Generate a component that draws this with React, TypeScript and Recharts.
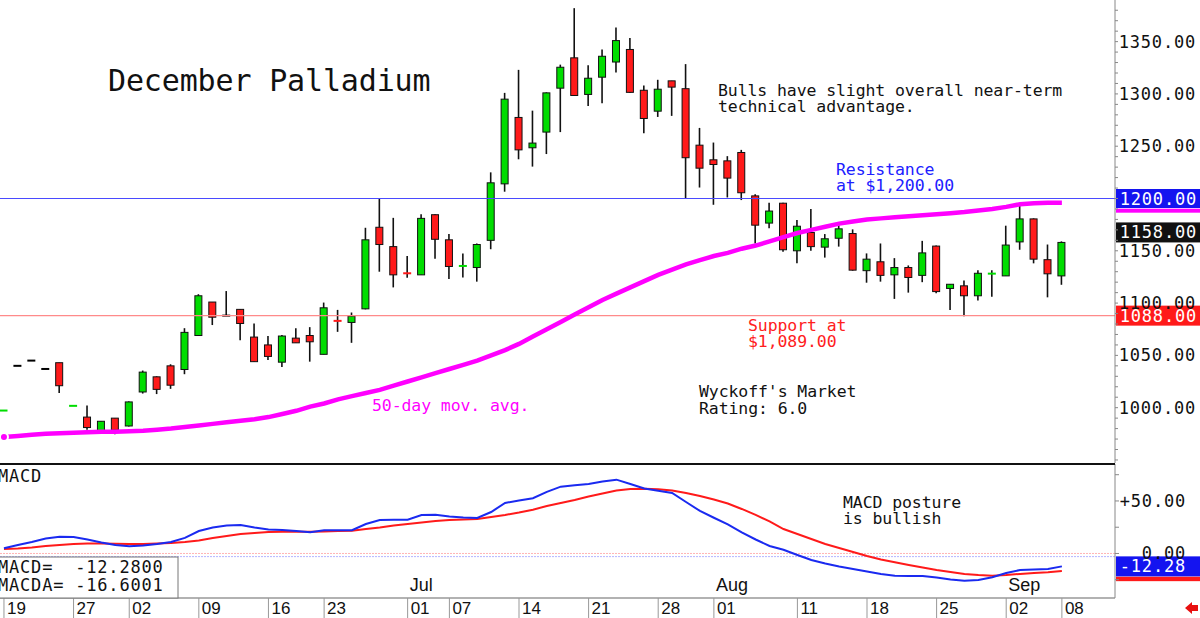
import React from "react";
import { ComposedChart, Bar, Line, XAxis, YAxis, ReferenceLine } from "recharts";

// trading days, May 19 - Sep 08
const dates = [
  "05/19", "05/20", "05/21", "05/22", "05/23", "05/27", "05/28", "05/29", "05/30",
  "06/02", "06/03", "06/04", "06/05", "06/06", "06/09", "06/10", "06/11", "06/12", "06/13",
  "06/16", "06/17", "06/18", "06/20", "06/23", "06/24", "06/25", "06/26", "06/27", "06/30",
  "07/01", "07/02", "07/03", "07/07", "07/08", "07/09", "07/10", "07/11", "07/14", "07/15",
  "07/16", "07/17", "07/18", "07/21", "07/22", "07/23", "07/24", "07/25", "07/28", "07/29",
  "07/30", "07/31", "08/01", "08/04", "08/05", "08/06", "08/07", "08/08", "08/11", "08/12",
  "08/13", "08/14", "08/15", "08/18", "08/19", "08/20", "08/21", "08/22", "08/25", "08/26",
  "08/27", "08/28", "08/29", "09/02", "09/03", "09/04", "09/05", "09/08",
];

const opens = [
  997, 1040, 1045, 1037, 1043, 1001.5, 991, 975.5, 990,
  982.5, 1015, 1029.5, 1040, 1036.5, 1069, 1101, 1088, 1094, 1067.5,
  1060, 1043.5, 1066.5, 1069, 1051, 1083.2, 1081.5, 1094.5, 1172.5, 1154,
  1128.7, 1127, 1184.5, 1160.5, 1135.3, 1134, 1160, 1214, 1277.5, 1248.5,
  1263.5, 1305.5, 1334.5, 1299.5, 1316, 1330.5, 1342.5, 1303.5, 1283.5, 1312.5,
  1305, 1251, 1237, 1236, 1244, 1202.5, 1176.5, 1195.5, 1150, 1167.5,
  1153.5, 1162, 1166.5, 1131, 1139.5, 1127, 1134, 1126.5, 1154.5, 1114,
  1116.5, 1107, 1128, 1126, 1158.5, 1180.5, 1141.5, 1126,
];
const highs = [
  997.5, 1040, 1045, 1037, 1043, 1002, 1002, 987, 990,
  1006, 1035.5, 1030, 1041.5, 1076, 1108.5, 1101, 1111.5, 1094, 1080.5,
  1068.5, 1069.5, 1076, 1077, 1100.5, 1093.5, 1091, 1172, 1199.5, 1181.5,
  1145, 1185, 1185, 1166, 1147.5, 1157, 1225, 1301, 1323, 1284,
  1301.5, 1328, 1382, 1327.5, 1342.5, 1363.5, 1353.5, 1308, 1313.5, 1312.5,
  1328.5, 1267.5, 1253.5, 1240.5, 1246.5, 1204, 1196, 1196, 1179.5, 1190,
  1166, 1174.5, 1170.5, 1147.5, 1157, 1143, 1136, 1159.5, 1155, 1118,
  1121.5, 1131.5, 1131.5, 1174, 1195.5, 1181, 1156, 1159,
];
const lows = [
  997, 1040, 1045, 1037, 1014, 1001.5, 979, 975.5, 974.5,
  982, 1013.5, 1013, 1018, 1032, 1069, 1079, 1088, 1064.5, 1044,
  1045.5, 1039, 1062, 1044, 1051, 1072.5, 1062, 1094, 1130, 1115,
  1124.3, 1127, 1142.5, 1123, 1124.5, 1120.5, 1151.5, 1206.5, 1237.5, 1230.5,
  1242.5, 1263.5, 1298, 1288.5, 1291, 1320.5, 1301, 1262.5, 1278, 1279,
  1200, 1210.5, 1194, 1201, 1198.5, 1157, 1171.5, 1149, 1138, 1150,
  1143.5, 1154, 1131, 1119.5, 1120.5, 1104, 1110, 1120, 1109.5, 1093.5,
  1087.5, 1102.5, 1106, 1126, 1151, 1138, 1105.5, 1117.5,
];
const closes = [
  997.5, 1040, 1045, 1037, 1021, 1002, 981, 987, 978.5,
  1005.5, 1034, 1017.5, 1021.5, 1072, 1107, 1086.5, 1088, 1080.5, 1044,
  1049, 1068.5, 1062, 1063, 1095.5, 1082.8, 1087.5, 1160.5, 1156, 1127,
  1128.3, 1181, 1161, 1135, 1135.7, 1156, 1215, 1295, 1246.5, 1253,
  1301, 1325.5, 1298.5, 1315, 1336, 1351, 1301.5, 1276.5, 1304.5, 1306.5,
  1239, 1229, 1232.5, 1219.5, 1205.5, 1174.5, 1188, 1151, 1173.5, 1154,
  1161.5, 1171, 1131.5, 1142, 1126.5, 1134, 1124.5, 1148, 1111, 1118,
  1107, 1128.5, 1128.3, 1155.5, 1180.5, 1142, 1128, 1158,
];

// 50-day moving average
const ma50 = [
  972, 973, 974, 975, 975.5, 976, 976.5, 977, 977,
  977.5, 978, 979, 980, 981.5, 983, 984.5, 986, 987.5, 989,
  991, 994, 997, 1001, 1004, 1008, 1011, 1014, 1017, 1021,
  1025, 1029, 1033, 1037, 1041, 1045, 1050, 1055, 1061, 1068,
  1075, 1082, 1089, 1096, 1103, 1109, 1115, 1121, 1127, 1132,
  1137, 1141, 1145, 1148, 1152, 1155, 1159, 1163, 1167, 1170,
  1173, 1176, 1178, 1180, 1181, 1182, 1183, 1184, 1185, 1186,
  1187, 1188.5, 1190, 1192, 1194.5, 1195.5, 1196, 1196,
];

const macdLine = [
  5, 8.1, 11, 14.3, 16, 15.7, 13.3, 10.5, 8.1,
  6.9, 7.6, 9, 11, 14.8, 21.4, 24.8, 26.7, 27.1, 24.8,
  22.9, 22.4, 21.4, 20.2, 22.1, 22.1, 22.1, 28.1, 31.9, 32.1,
  32.2, 36.7, 36.9, 35.2, 34.3, 33.8, 39.5, 48.1, 50.5, 52.6,
  58.6, 63.6, 65, 66.2, 68.6, 70.3, 66.2, 61.9, 59.7, 57.6,
  49, 40.5, 34, 27.8, 20, 13.3, 7.1, 3.6, -1.4, -6.2,
  -9.5, -12.4, -14.8, -17.1, -19.5, -21.1, -21.4, -21.4, -22.9, -24.8,
  -25.9, -25.2, -22.7, -18.6, -15.7, -15.2, -14.8, -12.28,
];
const macdSignal = [
  4.3, 4.8, 5.7, 7.1, 8.1, 9, 9.5, 9.5, 9.3,
  9, 9, 9.5, 10, 11, 12.4, 14.8, 16.7, 18.6, 19.5,
  20.5, 20.8, 20.8, 20.8, 21, 21.4, 21.7, 23.3, 24.8, 26.7,
  28.1, 29.5, 31, 31.9, 32.4, 32.9, 34.8, 36.7, 39, 41.7,
  45.2, 48.1, 51, 54.3, 57.1, 60, 61.4, 61.6, 61.1, 60,
  57.6, 54.8, 51.4, 47.6, 42.4, 36.7, 30.5, 23.3, 18.6, 13.8,
  9, 5.2, 1.4, -2.4, -5.7, -8.4, -11, -13.3, -15.7, -17.6,
  -19.5, -20.5, -21.1, -20.5, -19.5, -18.6, -17.9, -16.6,
];

const dateTicks = [
  "05/19", "05/27", "06/02", "06/09", "06/16", "06/23", "07/01", "07/07", "07/14",
  "07/21", "07/28", "08/01", "08/11", "08/18", "08/25", "09/02", "09/08",
];
const monthLabels: Record<string, string> = { "07/01": "Jul", "08/01": "Aug", "09/02": "Sep" };
// 1200 is covered by the resistance tag
const priceLabels = [1000, 1050, 1100, 1150, 1250, 1300, 1350];
const macdLabels: Record<number, string> = { 50: "+50.00", 0: "0.00" };

const resistance = 1200;
const support = 1088;

const MONO = "'DejaVu Sans Mono', monospace";
const SANS = "'Liberation Sans', Arial, sans-serif";
const GREEN = "#00dd00";
const RED = "#ff1a1a";
const PAD_R = 46.16;

const rows = dates.map((d, i) => ({
  d,
  o: opens[i],
  h: highs[i],
  l: lows[i],
  c: closes[i],
  range: [lows[i], highs[i] > lows[i] ? highs[i] : highs[i] + 0.01],
  ma: ma50[i],
  macd: macdLine[i],
  sig: macdSignal[i],
}));

const priceMinor: number[] = [];
for (let v = 950; v <= 1380; v += 10) priceMinor.push(v);
const macdMinor = [-25, 0, 25, 50, 75];

function Candle(props: any) {
  const { x, y, width, height, payload } = props;
  const { o, h, l, c } = payload;
  const top = Math.min(y, y + height);
  const hh = Math.abs(height);
  const span = h - l;
  const yOf = (p: number) => (span > 0 ? top + ((h - p) / span) * hh : top);
  const cx = x + width / 2;
  const color = c > o ? GREEN : c < o ? RED : "#000";
  const doji = Math.abs(c - o) < 1;
  const bTop = yOf(Math.max(o, c));
  const bBot = yOf(Math.min(o, c));
  return (
    <g>
      {span > 0 && <line x1={cx} x2={cx} y1={yOf(h)} y2={yOf(l)} stroke="#111" strokeWidth={1.6} />}
      {doji ? (
        <line x1={cx - 4} x2={cx + 4} y1={(bTop + bBot) / 2} y2={(bTop + bBot) / 2} stroke={color} strokeWidth={2} />
      ) : (
        <rect x={cx - 3.5} y={bTop} width={7} height={Math.max(bBot - bTop, 2)} fill={color} stroke="#111" strokeWidth={1} />
      )}
    </g>
  );
}

// value tag in the right margin, placed from the reference line's own y
function Tag(props: any) {
  const { viewBox, text, bg, fg = "#fff", h = 20, shift = 0, textRight = 1200 } = props;
  const right = viewBox.x + viewBox.width;
  const y = viewBox.y + shift;
  return (
    <g>
      <rect x={right + 1} y={y - h / 2} width={86} height={h} fill={bg} />
      {text && (
        <text x={textRight} y={y + 6} textAnchor="end" fill={fg} fontFamily={MONO} fontSize={17} letterSpacing={0.8}>
          {text}
        </text>
      )}
    </g>
  );
}

function PriceTick(props: any) {
  const { x, y, payload } = props;
  if (!priceLabels.includes(payload.value)) return <g />;
  return (
    <text x={x + 76} y={y + 6} textAnchor="end" fill="#111" fontFamily={MONO} fontSize={17} letterSpacing={0.8}>
      {payload.value.toFixed(2)}
    </text>
  );
}

function MacdTick(props: any) {
  const { x, y, payload } = props;
  const label = macdLabels[payload.value];
  if (!label) return <g />;
  return (
    <text x={x + 65} y={y + 6} textAnchor="end" fill="#111" fontFamily={MONO} fontSize={17} letterSpacing={0.8}>
      {label}
    </text>
  );
}

function DateTick(props: any) {
  const { x, y, payload } = props;
  const day = payload.value.slice(3);
  const month = monthLabels[payload.value];
  return (
    <g>
      <line x1={x} x2={x} y1={y} y2={y + 20} stroke="#999" />
      <text x={x + 3} y={y + 16} fill="#111" fontFamily={SANS} fontSize={17}>{day}</text>
      {month && (
        <text x={x + 2} y={y - 7} fill="#111" fontFamily={SANS} fontSize={18}>{month}</text>
      )}
    </g>
  );
}

const txt = { fontFamily: MONO, fontSize: 16.5, letterSpacing: -0.1 } as const;

export default function App() {
  return (
    <div style={{ position: "absolute", left: 0, top: 0, width: 1200, height: 618, background: "#fff", overflow: "hidden" }}>
      <div style={{ position: "absolute", left: -3, top: 0 }}>
        <ComposedChart width={1203} height={463} data={rows} margin={{ top: 0, right: 0, bottom: 0, left: 0 }}>
          <XAxis dataKey="d" scale="band" hide padding={{ left: 0, right: PAD_R }} />
          <YAxis
            orientation="right"
            width={85}
            domain={[947.1, 1389.8]}
            allowDataOverflow
            ticks={priceMinor}
            interval={0}
            tickSize={3}
            tickMargin={2}
            tickLine={{ stroke: "#888" }}
            axisLine={{ stroke: "#888" }}
            tick={<PriceTick />}
          />
          <ReferenceLine y={support} stroke="#ff8a8a" strokeWidth={1.2} label={<Tag text="1088.00" bg="#ff1a1a" />} />
          <ReferenceLine y={ma50[ma50.length - 1]} stroke="none" label={<Tag bg="#ff00ff" h={4} shift={8} />} />
          <ReferenceLine y={resistance} stroke="#4a4aff" strokeWidth={1.2} label={<Tag text="1200.00" bg="#1414f0" h={19} />} />
          <ReferenceLine
            y={closes[closes.length - 1]}
            stroke="none"
            label={<Tag text="1158.00" bg="#111" shift={-10} />}
          />
          <Line dataKey="ma" stroke="#ff00ff" strokeWidth={4.5} dot={false} isAnimationActive={false} />
          <Bar dataKey="range" barSize={9} shape={<Candle />} isAnimationActive={false} />
        </ComposedChart>
      </div>

      <div style={{ position: "absolute", left: -3, top: 464 }}>
        <ComposedChart width={1203} height={154} data={rows} margin={{ top: 0, right: 0, bottom: 0, left: 0 }}>
          <XAxis
            dataKey="d"
            scale="band"
            height={20}
            padding={{ left: 0, right: PAD_R }}
            ticks={dateTicks}
            interval={0}
            tickSize={0}
            tickMargin={0}
            tickLine={false}
            axisLine={{ stroke: "#999", strokeWidth: 1.5 }}
            tick={<DateTick />}
          />
          <YAxis
            orientation="right"
            width={85}
            domain={[-42.4, 85.2]}
            allowDataOverflow
            ticks={macdMinor}
            interval={0}
            tickSize={4}
            tickMargin={2}
            tickLine={{ stroke: "#888" }}
            axisLine={{ stroke: "#888" }}
            tick={<MacdTick />}
          />
          <ReferenceLine y={0} stroke="#ffb4b4" strokeDasharray="2 1" />
          <ReferenceLine y={-3} stroke="#b4b4ff" strokeDasharray="2 1" />
          <ReferenceLine y={macdSignal[macdSignal.length - 1]} stroke="none" label={<Tag bg="#ff1a1a" h={4.5} shift={8} />} />
          <ReferenceLine
            y={macdLine[macdLine.length - 1]}
            stroke="none"
            label={<Tag text="-12.28" bg="#1414f0" textRight={1189} />}
          />
          <Line dataKey="sig" stroke="#ff1a1a" strokeWidth={2} dot={false} isAnimationActive={false} />
          <Line dataKey="macd" stroke="#1a2af0" strokeWidth={2} dot={false} isAnimationActive={false} />
        </ComposedChart>
      </div>

      <svg width={1200} height={618} style={{ position: "absolute", left: 0, top: 0, pointerEvents: "none" }}>
        <line x1={0} x2={1115} y1={464} y2={464} stroke="#111" strokeWidth={2} />
        <text x={108} y={91} fontFamily={MONO} fontSize={30} letterSpacing={-0.15} fill="#111">December Palladium</text>
        <text x={718} y={96} {...txt} fill="#111">Bulls have slight overall near-term</text>
        <text x={718} y={112} {...txt} fill="#111">technical advantage.</text>
        <text x={836} y={175} {...txt} fill="#2020ff">Resistance</text>
        <text x={836} y={191} {...txt} fill="#2020ff">at $1,200.00</text>
        <text x={748} y={331} {...txt} fill="#ff2020">Support at</text>
        <text x={748} y={347} {...txt} fill="#ff2020">$1,089.00</text>
        <text x={372} y={411} {...txt} fill="#ff00ff">50-day mov. avg.</text>
        <text x={699} y={397} {...txt} fill="#111">Wyckoff's Market</text>
        <text x={699} y={414} {...txt} fill="#111">Rating: 6.0</text>
        <text x={843} y={508} {...txt} fill="#111">MACD posture</text>
        <text x={843} y={524} {...txt} fill="#111">is bullish</text>
        <text x={-2} y={482} fontFamily={MONO} fontSize={17} letterSpacing={0.8} fill="#111">MACD</text>
        <rect x={-1} y={557} width={179} height={41} fill="#fff" stroke="#777" />
        <text x={-2} y={573} fontFamily={MONO} fontSize={17} letterSpacing={0.8} fill="#111" style={{ whiteSpace: "pre" }}>{"MACD=  -12.2800"}</text>
        <text x={-2} y={591} fontFamily={MONO} fontSize={17} letterSpacing={0.8} fill="#111" style={{ whiteSpace: "pre" }}>{"MACDA= -16.6001"}</text>
        <polygon points="1185,608 1192,602 1192,605 1198,605 1198,611 1192,611 1192,614" fill="#e81010" />
      </svg>
    </div>
  );
}
